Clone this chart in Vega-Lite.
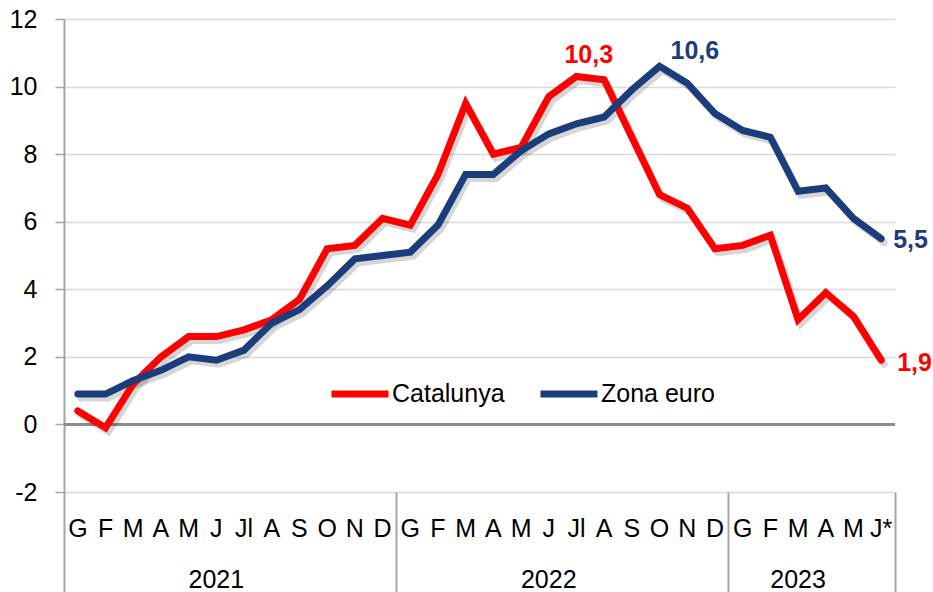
{
  "$schema": "https://vega.github.io/schema/vega-lite/v6.json",
  "width": 831,
  "height": 473,
  "autosize": {"type": "none"},
  "padding": {"left": 64, "top": 19, "right": 38, "bottom": 100},
  "background": "white",
  "config": {
    "view": {"stroke": null},
    "font": "Liberation Sans",
    "locale": {"number": {"decimal": ",", "thousands": ".", "grouping": [3], "currency": ["", " €"], "minus": "-"}}
  },
  "data": {
    "values": [
      {"mes": "2021-01", "serie": "Catalunya", "valor": 0.4},
      {"mes": "2021-02", "serie": "Catalunya", "valor": -0.1},
      {"mes": "2021-03", "serie": "Catalunya", "valor": 1.2},
      {"mes": "2021-04", "serie": "Catalunya", "valor": 2.0},
      {"mes": "2021-05", "serie": "Catalunya", "valor": 2.6},
      {"mes": "2021-06", "serie": "Catalunya", "valor": 2.6},
      {"mes": "2021-07", "serie": "Catalunya", "valor": 2.8},
      {"mes": "2021-08", "serie": "Catalunya", "valor": 3.1},
      {"mes": "2021-09", "serie": "Catalunya", "valor": 3.7},
      {"mes": "2021-10", "serie": "Catalunya", "valor": 5.2},
      {"mes": "2021-11", "serie": "Catalunya", "valor": 5.3},
      {"mes": "2021-12", "serie": "Catalunya", "valor": 6.1},
      {"mes": "2022-01", "serie": "Catalunya", "valor": 5.9},
      {"mes": "2022-02", "serie": "Catalunya", "valor": 7.4},
      {"mes": "2022-03", "serie": "Catalunya", "valor": 9.5},
      {"mes": "2022-04", "serie": "Catalunya", "valor": 8.0},
      {"mes": "2022-05", "serie": "Catalunya", "valor": 8.2},
      {"mes": "2022-06", "serie": "Catalunya", "valor": 9.7},
      {"mes": "2022-07", "serie": "Catalunya", "valor": 10.3},
      {"mes": "2022-08", "serie": "Catalunya", "valor": 10.2},
      {"mes": "2022-09", "serie": "Catalunya", "valor": 8.5},
      {"mes": "2022-10", "serie": "Catalunya", "valor": 6.8},
      {"mes": "2022-11", "serie": "Catalunya", "valor": 6.4},
      {"mes": "2022-12", "serie": "Catalunya", "valor": 5.2},
      {"mes": "2023-01", "serie": "Catalunya", "valor": 5.3},
      {"mes": "2023-02", "serie": "Catalunya", "valor": 5.6},
      {"mes": "2023-03", "serie": "Catalunya", "valor": 3.1},
      {"mes": "2023-04", "serie": "Catalunya", "valor": 3.9},
      {"mes": "2023-05", "serie": "Catalunya", "valor": 3.2},
      {"mes": "2023-06", "serie": "Catalunya", "valor": 1.9},
      {"mes": "2021-01", "serie": "Zona euro", "valor": 0.9},
      {"mes": "2021-02", "serie": "Zona euro", "valor": 0.9},
      {"mes": "2021-03", "serie": "Zona euro", "valor": 1.3},
      {"mes": "2021-04", "serie": "Zona euro", "valor": 1.6},
      {"mes": "2021-05", "serie": "Zona euro", "valor": 2.0},
      {"mes": "2021-06", "serie": "Zona euro", "valor": 1.9},
      {"mes": "2021-07", "serie": "Zona euro", "valor": 2.2},
      {"mes": "2021-08", "serie": "Zona euro", "valor": 3.0},
      {"mes": "2021-09", "serie": "Zona euro", "valor": 3.4},
      {"mes": "2021-10", "serie": "Zona euro", "valor": 4.1},
      {"mes": "2021-11", "serie": "Zona euro", "valor": 4.9},
      {"mes": "2021-12", "serie": "Zona euro", "valor": 5.0},
      {"mes": "2022-01", "serie": "Zona euro", "valor": 5.1},
      {"mes": "2022-02", "serie": "Zona euro", "valor": 5.9},
      {"mes": "2022-03", "serie": "Zona euro", "valor": 7.4},
      {"mes": "2022-04", "serie": "Zona euro", "valor": 7.4},
      {"mes": "2022-05", "serie": "Zona euro", "valor": 8.1},
      {"mes": "2022-06", "serie": "Zona euro", "valor": 8.6},
      {"mes": "2022-07", "serie": "Zona euro", "valor": 8.9},
      {"mes": "2022-08", "serie": "Zona euro", "valor": 9.1},
      {"mes": "2022-09", "serie": "Zona euro", "valor": 9.9},
      {"mes": "2022-10", "serie": "Zona euro", "valor": 10.6},
      {"mes": "2022-11", "serie": "Zona euro", "valor": 10.1},
      {"mes": "2022-12", "serie": "Zona euro", "valor": 9.2},
      {"mes": "2023-01", "serie": "Zona euro", "valor": 8.7},
      {"mes": "2023-02", "serie": "Zona euro", "valor": 8.5},
      {"mes": "2023-03", "serie": "Zona euro", "valor": 6.9},
      {"mes": "2023-04", "serie": "Zona euro", "valor": 7.0},
      {"mes": "2023-05", "serie": "Zona euro", "valor": 6.1},
      {"mes": "2023-06", "serie": "Zona euro", "valor": 5.5}
    ]
  },
  "resolve": {"axis": {"x": "independent"}},
  "encoding": {
    "y": {"field": "valor", "type": "quantitative", "scale": {"domain": [-2, 12]},
          "axis": {"title": null, "values": [-2, 0, 2, 4, 6, 8, 10, 12], "tickSize": 9, "tickColor": "#a6a6a6", "tickWidth": 1.5,
                   "domainColor": "#a6a6a6", "domainWidth": 2, "labelFontSize": 25, "labelColor": "#000000", "labelPadding": 18,
                   "labelFont": "Liberation Sans", "grid": true, "gridColor": "#d9d9d9", "gridWidth": 1.5}}
  },
  "layer": [
    {
      "mark": {"type": "rule", "color": "#8c8c8c", "strokeWidth": 2},
      "encoding": {"y": {"datum": 0}}
    },
    {
      "mark": {"type": "line", "color": "#000000", "opacity": 0.16, "strokeWidth": 7, "xOffset": 3, "yOffset": 4, "strokeCap": "round"},
      "encoding": {
        "x": {"field": "mes", "type": "ordinal", "bandPosition": 0.5,
              "scale": {"type": "band", "paddingInner": 0, "paddingOuter": 0},
              "axis": {"orient": "bottom", "values": ["2021-01", "2021-12", "2022-12", "2023-06"], "bandPosition": 1, "tickExtra": true,
                       "tickOpacity": {"condition": {"test": "datum.value === '2021-01'", "value": 0}, "value": 1},
                       "labels": false, "ticks": true, "tickSize": 100, "tickColor": "#a6a6a6", "tickWidth": 2,
                       "domain": false, "grid": false, "title": null}},
        "detail": {"field": "serie"}
      }
    },
    {
      "mark": {"type": "line", "strokeWidth": 7, "strokeCap": "round"},
      "encoding": {
        "x": {"field": "mes", "type": "ordinal", "bandPosition": 0.5,
              "scale": {"type": "band", "paddingInner": 0, "paddingOuter": 0},
              "axis": {"orient": "bottom", "title": null, "ticks": false, "domain": false, "grid": false,
                       "labelAngle": 0, "labelFontSize": 25, "labelColor": "#000000", "labelPadding": 24,
                       "labelFont": "Liberation Sans",
                       "labelExpr": "datum.value === '2023-06' ? 'J*' : ['G','F','M','A','M','J','Jl','A','S','O','N','D'][toNumber(slice(datum.value, 5)) - 1]"}},
        "color": {"field": "serie", "type": "nominal",
                  "scale": {"domain": ["Catalunya", "Zona euro"], "range": ["#ff0000", "#1c3d7b"]},
                  "legend": {"orient": "none", "legendX": 264, "legendY": 343, "direction": "horizontal", "title": null,
                             "symbolType": "stroke", "symbolStrokeWidth": 7, "symbolSize": 3249, "labelFontSize": 25,
                             "labelFont": "Liberation Sans", "labelColor": "#000000", "labelOffset": 0, "columnPadding": 21, "padding": 0}}
      }
    },
    {
      "transform": [{"filter": "datum.mes === '2022-07' && datum.serie === 'Catalunya'"}],
      "mark": {"type": "text", "align": "left", "baseline": "alphabetic", "dx": -12, "dy": -13, "fontSize": 25, "fontWeight": "bold", "color": "#ff0000", "font": "Liberation Sans"},
      "encoding": {
        "x": {"field": "mes", "type": "ordinal", "bandPosition": 0.5,
              "scale": {"type": "band", "paddingInner": 0, "paddingOuter": 0},
              "axis": {"orient": "bottom", "values": ["2021-06", "2022-06", "2023-03"], "bandPosition": 1, "ticks": false, "domain": false, "grid": false,
                       "title": null, "labelAngle": 0, "labelFontSize": 25, "labelColor": "#000000", "labelPadding": 75, "labelFont": "Liberation Sans",
                       "labelExpr": "slice(datum.value, 0, 4)"}},
        "text": {"field": "valor", "type": "quantitative", "format": ".1f"}
      }
    },
    {
      "transform": [{"filter": "datum.mes === '2022-10' && datum.serie === 'Zona euro'"}],
      "mark": {"type": "text", "align": "left", "baseline": "alphabetic", "dx": 11, "dy": -7, "fontSize": 25, "fontWeight": "bold", "color": "#1c3d7b", "font": "Liberation Sans"},
      "encoding": {
        "x": {"field": "mes", "type": "ordinal", "bandPosition": 0.5,
              "scale": {"type": "band", "paddingInner": 0, "paddingOuter": 0}, "axis": null},
        "text": {"field": "valor", "type": "quantitative", "format": ".1f"}
      }
    },
    {
      "transform": [{"filter": "datum.mes === '2023-06' && datum.serie === 'Zona euro'"}],
      "mark": {"type": "text", "align": "left", "baseline": "alphabetic", "dx": 12, "dy": 9, "fontSize": 25, "fontWeight": "bold", "color": "#1c3d7b", "font": "Liberation Sans"},
      "encoding": {
        "x": {"field": "mes", "type": "ordinal", "bandPosition": 0.5,
              "scale": {"type": "band", "paddingInner": 0, "paddingOuter": 0}, "axis": null},
        "text": {"field": "valor", "type": "quantitative", "format": ".1f"}
      }
    },
    {
      "transform": [{"filter": "datum.mes === '2023-06' && datum.serie === 'Catalunya'"}],
      "mark": {"type": "text", "align": "left", "baseline": "alphabetic", "dx": 16, "dy": 10.5, "fontSize": 25, "fontWeight": "bold", "color": "#ff0000", "font": "Liberation Sans"},
      "encoding": {
        "x": {"field": "mes", "type": "ordinal", "bandPosition": 0.5,
              "scale": {"type": "band", "paddingInner": 0, "paddingOuter": 0}, "axis": null},
        "text": {"field": "valor", "type": "quantitative", "format": ".1f"}
      }
    }
  ]
}
